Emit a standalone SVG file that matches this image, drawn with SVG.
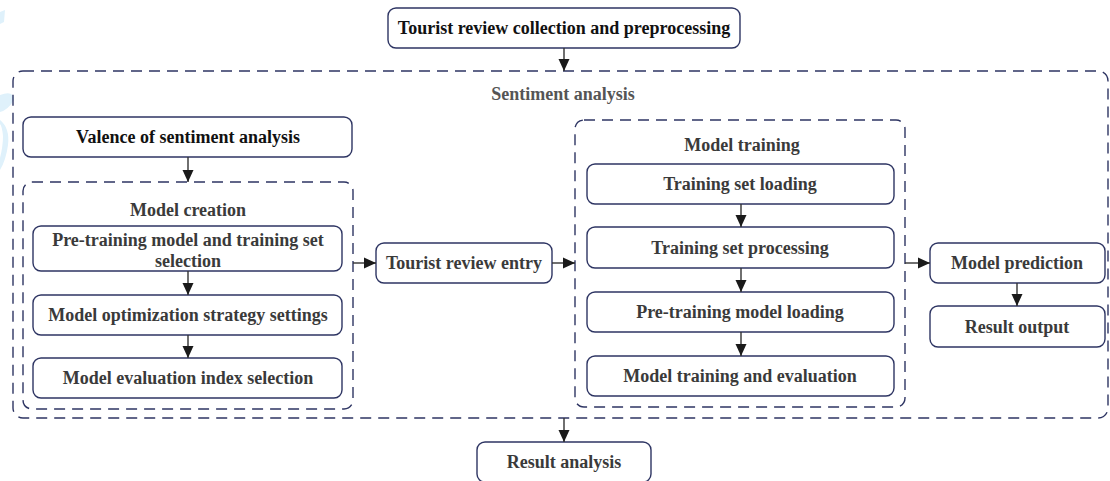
<svg xmlns="http://www.w3.org/2000/svg" width="1110" height="481" viewBox="0 0 1110 481">
  <style>
    .box { fill: #ffffff; stroke: #2e3563; stroke-width: 1.4; }
    .frame { fill: none; stroke: #2e3563; stroke-width: 1.4; stroke-dasharray: 11 7; }
    .lbl { font-family: "Liberation Serif", "Times New Roman", serif; font-weight: bold; font-size: 18px; fill: #3a3a3a; text-anchor: middle; }
    .dark { fill: #111111; }
    .title { fill: #555555; }
    .edge { fill: none; stroke: #333333; stroke-width: 1.4; marker-end: url(#arrow); }
    .mark { fill: #dff1fb; }
  </style>
  <defs>
    <marker id="arrow" viewBox="0 0 12 12" refX="12" refY="6" markerWidth="12" markerHeight="12" markerUnits="userSpaceOnUse" orient="auto">
      <path d="M0,0.5 L12,6 L0,11.5 Z" fill="#1a1a1a"/>
    </marker>
  </defs>

  <rect width="1110" height="481" fill="#ffffff"/>

  <!-- faint background mark on the left edge -->
  <g id="bg-mark">
    <path class="mark" d="M0,12 L5,10 L4,22 L0,24 Z"/>
    <path class="mark" d="M0,95 Q14,90 14,100 Q8,110 0,112 Z"/>
    <path class="mark" d="M0,120 Q10,128 8,145 Q6,160 0,170 L0,158 Q3,146 3,136 Q2,126 0,124 Z"/>
  </g>

  <!-- grouping frames -->
  <g id="sentiment-analysis">
    <rect class="frame" x="13" y="71" width="1095" height="347" rx="10"/>
    <text class="lbl title" x="563" y="100">Sentiment analysis</text>
  </g>
  <g id="model-creation">
    <rect class="frame" x="23" y="182" width="330" height="227" rx="9"/>
    <text class="lbl" x="188" y="216">Model creation</text>
  </g>
  <g id="model-training">
    <rect class="frame" x="575" y="120" width="330" height="287" rx="9"/>
    <text class="lbl" x="742" y="151">Model training</text>
  </g>

  <!-- nodes -->
  <g id="collection">
    <rect class="box" x="388" y="8" width="352" height="40" rx="8"/>
    <text class="lbl dark" x="564" y="34">Tourist review collection and preprocessing</text>
  </g>
  <g id="valence">
    <rect class="box" x="23" y="117" width="329" height="40" rx="8"/>
    <text class="lbl dark" x="188" y="143">Valence of sentiment analysis</text>
  </g>
  <g id="pretraining-selection">
    <rect class="box" x="33" y="226" width="309" height="45" rx="8"/>
    <text class="lbl" x="188" y="246">Pre-training model and training set</text>
    <text class="lbl" x="188" y="267">selection</text>
  </g>
  <g id="optimization">
    <rect class="box" x="33" y="295" width="309" height="40" rx="8"/>
    <text class="lbl" x="188" y="321">Model optimization strategy settings</text>
  </g>
  <g id="evaluation-index">
    <rect class="box" x="33" y="358" width="309" height="40" rx="8"/>
    <text class="lbl" x="188" y="384">Model evaluation index selection</text>
  </g>
  <g id="review-entry">
    <rect class="box" x="376" y="243" width="176" height="40" rx="8"/>
    <text class="lbl" x="464" y="269">Tourist review entry</text>
  </g>
  <g id="set-loading">
    <rect class="box" x="587" y="164" width="307" height="40" rx="8"/>
    <text class="lbl" x="740" y="190">Training set loading</text>
  </g>
  <g id="set-processing">
    <rect class="box" x="587" y="227" width="307" height="41" rx="8"/>
    <text class="lbl" x="740" y="254">Training set processing</text>
  </g>
  <g id="model-loading">
    <rect class="box" x="587" y="292" width="307" height="40" rx="8"/>
    <text class="lbl" x="740" y="318">Pre-training model loading</text>
  </g>
  <g id="train-evaluate">
    <rect class="box" x="587" y="356" width="307" height="40" rx="8"/>
    <text class="lbl" x="740" y="382">Model training and evaluation</text>
  </g>
  <g id="prediction">
    <rect class="box" x="930" y="243" width="175" height="40" rx="8"/>
    <text class="lbl" x="1017" y="269">Model prediction</text>
  </g>
  <g id="result-output">
    <rect class="box" x="930" y="306" width="175" height="41" rx="8"/>
    <text class="lbl" x="1017" y="333">Result output</text>
  </g>
  <g id="result-analysis">
    <rect class="box" x="477" y="442" width="174" height="40" rx="8"/>
    <text class="lbl" x="564" y="468">Result analysis</text>
  </g>

  <!-- connectors -->
  <g id="connectors">
    <line class="edge" x1="564" y1="48" x2="564" y2="71"/>
    <line class="edge" x1="188" y1="157" x2="188" y2="182"/>
    <line class="edge" x1="188" y1="271" x2="188" y2="295"/>
    <line class="edge" x1="188" y1="335" x2="188" y2="358"/>
    <line class="edge" x1="353" y1="263" x2="376" y2="263"/>
    <line class="edge" x1="552" y1="263" x2="575" y2="263"/>
    <line class="edge" x1="741" y1="204" x2="741" y2="227"/>
    <line class="edge" x1="741" y1="268" x2="741" y2="292"/>
    <line class="edge" x1="741" y1="332" x2="741" y2="356"/>
    <line class="edge" x1="905" y1="263" x2="930" y2="263"/>
    <line class="edge" x1="1017" y1="283" x2="1017" y2="306"/>
    <line class="edge" x1="564" y1="418" x2="564" y2="442"/>
  </g>
</svg>
